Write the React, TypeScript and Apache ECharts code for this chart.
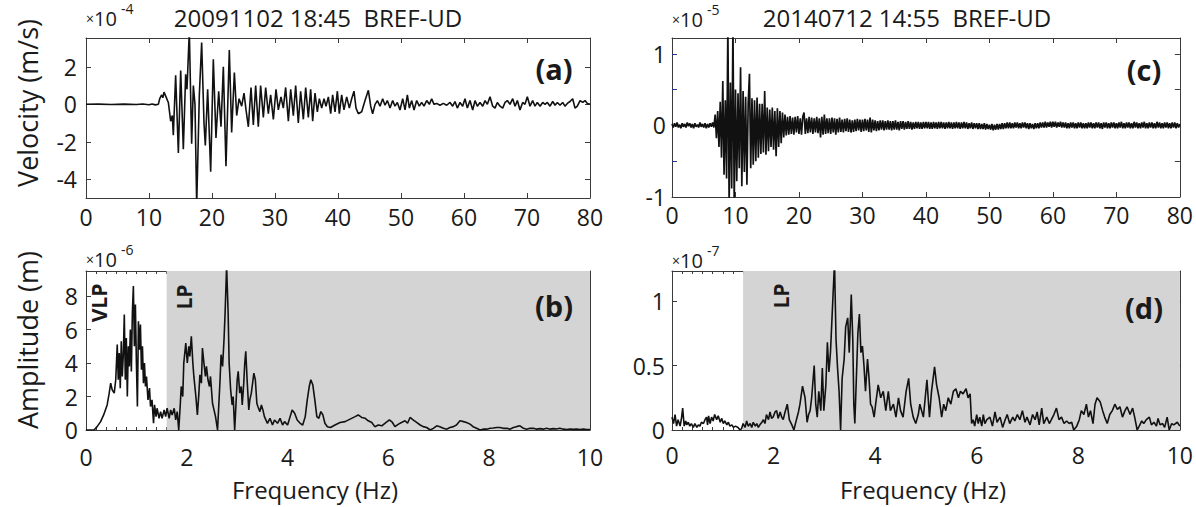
import React, { useEffect, useRef } from "react";
import * as echarts from "echarts";

// ---------- DATA ----------
// (a) velocity, x10^-4 m/s, [time s, value]
const velA: [number, number][] = [
  [0, 0], [2, 0.01], [4, -0.01], [6, 0.01], [8, -0.01], [9, 0.02], [10, -0.02], [10.5, 0.02], [11, -0.03], [11.48, 0.0],
  [11.7, 0.3], [12.01, 0.5], [12.2, 0.35], [12.38, 0.65], [12.7, 0.4], [13.07, 0.1], [13.44, -0.9], [13.7, -0.6], [13.86, -1.65],
  [14.23, 1.55], [14.66, -2.6], [15.03, 1.8], [15.45, -2.4], [15.82, 1.6], [16.03, 0.8], [16.4, 3.9], [16.77, -2.1], [17.04, 1.0],
  [17.3, 0.0], [17.57, -5.4], [17.99, 0.5], [18.36, 3.3], [18.73, -1.0], [18.94, -2.2], [19.31, 0.8], [19.79, -3.6], [20.21, 2.4],
  [20.63, -1.8], [21.06, 0.7], [21.43, -1.2], [21.8, 2.0], [22.22, -3.3], [22.75, 2.9], [23.12, -1.5], [23.55, 1.7], [23.92, -0.6],
  [24.3, 0.3], [24.71, -0.1], [25.08, 0.6], [25.4, -0.3], [25.77, -1.2], [26.19, 0.9], [26.56, -1.1], [26.93, 1.0], [27.35, -1.2],
  [27.72, 1.0], [28.15, -0.7], [28.52, 0.9], [28.94, -0.5], [29.31, 0.5], [29.74, -0.8], [30.16, 0.8], [30.53, -0.3], [30.95, 0.4],
  [31.32, -0.2], [31.69, 0.9], [32.12, -0.9], [32.49, 0.8], [32.91, -0.6], [33.28, 1.0], [33.7, -1.0], [34.07, 0.7], [34.5, -0.8],
  [34.87, 0.9], [35.29, -0.7], [35.66, 0.8], [35.98, -0.9], [36.35, 0.6], [36.72, -0.4], [37.04, 0.3], [37.41, -0.2], [37.78, 0.3],
  [38.1, -0.1], [38.47, 0.4], [38.84, -0.5], [39.15, 0.5], [39.53, -0.4], [39.9, 0.7], [40.21, -0.5], [40.58, 0.5], [40.95, -0.3],
  [41.38, 0.4], [41.8, -0.2], [42.17, 0.3], [42.54, 0.7], [42.86, -0.2], [43.23, -0.5], [43.76, -0.4], [44.29, 0.2], [44.82, 0.75],
  [45.19, -0.1], [45.5, -0.5], [45.88, 0.0], [46.25, 0.2], [46.67, -0.1], [47.09, 0.3], [47.46, -0.05], [47.83, 0.2], [48.26, -0.2],
  [48.68, 0.2], [49.05, -0.1], [49.42, 0.1], [49.84, -0.3], [50.27, 0.3], [50.64, -0.3], [51.01, 0.5], [51.33, -0.2], [51.7, 0.2],
  [52.07, -0.3], [52.49, 0.2], [52.91, -0.1], [53.28, 0.1], [53.65, -0.1], [54.08, 0.2], [54.5, 0.0], [54.87, 0.3], [55.24, 0.0],
  [55.66, 0.05], [56.19, -0.05], [56.72, 0.05], [57.25, -0.05], [57.78, 0.1], [58.2, -0.1], [58.57, 0.15], [58.94, -0.2], [59.37, 0.1],
  [59.79, -0.1], [60.16, 0.3], [60.53, -0.2], [60.95, 0.2], [61.38, -0.3], [61.75, 0.2], [62.12, -0.1], [62.54, 0.1], [62.97, -0.1],
  [63.34, 0.2], [63.71, 0.0], [64.13, 0.4], [64.55, -0.1], [64.92, -0.2], [65.29, 0.1], [65.72, -0.1], [66.14, -0.2], [66.51, 0.1],
  [66.88, 0.2], [67.3, 0.0], [67.73, 0.3], [68.1, -0.1], [68.47, 0.2], [68.89, -0.3], [69.31, 0.1], [69.68, 0.0], [70.05, 0.4],
  [70.48, -0.1], [70.9, 0.2], [71.27, -0.1], [71.64, 0.1], [72.07, -0.1], [72.49, 0.1], [72.86, 0.0], [73.23, 0.1], [73.65, -0.1],
  [74.08, 0.15], [74.45, -0.05], [74.82, 0.1], [75.24, -0.05], [75.66, 0.1], [76.03, -0.1], [76.4, 0.05], [76.83, 0.15], [77.25, 0.3],
  [77.62, -0.2], [77.99, -0.1], [78.42, 0.2], [78.84, 0.1], [79.21, 0.2], [79.58, 0.05], [80, 0.0],
];

// (c) velocity, x10^-5 m/s, sampled every 0.2 s from 0 to 80 s
const velCStep = 0.2;
const velC: number[] = [
  // 0-5
  0.02, -0.03, 0.03, -0.02, 0.04, -0.03, 0.01, -0.04, 0.03, -0.02, 0.02, -0.03, 0.04, -0.01, 0.03, -0.03, 0.02, -0.04, 0.03, -0.02, 0.01, -0.03, 0.04, -0.02, 0.02,
  // 5-10
  -0.03, 0.03, -0.04, 0.02, -0.03, 0.03, -0.02, 0.04, -0.03, 0.15, -0.18, 0.2, -0.3, 0.33, -0.45, 0.62, -0.69, 0.35, -0.74, 1.4, -1.1, 0.6, -0.88, 1.4, -1.1,
  // 10-15
  0.5, -0.78, 0.45, -0.6, 0.81, -0.85, 0.48, -0.65, 0.4, -0.83, 0.3, 0.72, -0.6, 0.38, -0.55, 0.35, -0.5, 0.39, -0.45, 0.3, -0.4, 0.3, -0.38, 0.48, -0.41,
  // 15-20
  0.25, -0.36, 0.22, -0.3, 0.25, -0.34, 0.2, -0.43, 0.24, -0.3, 0.2, -0.25, 0.18, -0.17, 0.15, -0.14, 0.12, -0.13, 0.13, -0.12, 0.11, -0.13, 0.12, -0.1, 0.13,
  // 20-25
  -0.12, 0.1, -0.13, 0.12, 0.18, -0.12, 0.1, -0.11, 0.12, -0.1, 0.11, -0.12, 0.1, -0.1, 0.12, -0.11, 0.1, -0.17, 0.12, -0.13, 0.15, -0.12, 0.1, -0.11, 0.1,
  // 25-30
  -0.12, 0.11, -0.1, 0.1, -0.13, 0.09, -0.1, 0.11, -0.09, 0.08, -0.1, 0.09, -0.08, 0.1, -0.09, 0.08, -0.1, 0.07, -0.09, 0.08, -0.08, 0.09, -0.07, 0.08, -0.09,
  // 30-35
  0.08, -0.08, 0.09, -0.07, 0.08, -0.09, 0.11, -0.1, 0.08, -0.07, 0.07, -0.08, 0.06, -0.07, 0.07, -0.06, 0.07, -0.07, 0.06, -0.06, 0.07, -0.06, 0.06, -0.07, 0.06,
  // 35-40
  -0.06, 0.07, -0.06, 0.05, -0.07, 0.06, -0.05, 0.06, -0.06, 0.05, -0.05, 0.06, -0.05, 0.05, -0.06, 0.04, -0.05, 0.05, -0.04, 0.05, -0.05, 0.04, -0.05, 0.05, -0.04,
  // 40-45
  0.05, -0.04, 0.05, -0.05, 0.04, -0.05, 0.05, -0.04, 0.04, -0.05, 0.05, -0.04, 0.05, -0.04, 0.04, -0.05, 0.04, -0.04, 0.05, -0.04, 0.04, -0.05, 0.04, -0.04, 0.05,
  // 45-50
  -0.04, 0.04, -0.05, 0.04, -0.04, 0.05, -0.04, 0.04, -0.05, 0.03, -0.04, 0.04, -0.05, 0.03, -0.04, 0.03, -0.05, 0.03, -0.05, 0.02, -0.05, 0.03, -0.06, 0.02, -0.05,
  // 50-55
  0.01, -0.06, 0.02, -0.07, 0.01, -0.06, 0.02, -0.06, 0.02, -0.05, 0.03, -0.05, 0.03, -0.04, 0.04, -0.04, 0.04, -0.04, 0.03, -0.04, 0.04, -0.03, 0.04, -0.04, 0.03,
  // 55-60
  -0.04, 0.04, -0.03, 0.04, -0.04, 0.03, -0.05, 0.03, -0.04, 0.02, -0.05, 0.03, -0.04, 0.03, -0.04, 0.04, -0.03, 0.04, -0.03, 0.05, -0.03, 0.04, -0.02, 0.05, -0.03,
  // 60-65
  0.05, -0.02, 0.05, -0.03, 0.04, -0.02, 0.05, -0.03, 0.04, -0.03, 0.04, -0.04, 0.03, -0.04, 0.04, -0.03, 0.04, -0.04, 0.03, -0.04, 0.04, -0.03, 0.04, -0.04, 0.03,
  // 65-70
  -0.04, 0.03, -0.04, 0.04, -0.03, 0.04, -0.04, 0.03, -0.04, 0.04, -0.03, 0.04, -0.04, 0.03, -0.05, 0.04, -0.03, 0.04, -0.04, 0.03, -0.04, 0.04, -0.03, 0.04, -0.04,
  // 70-75
  0.03, -0.04, 0.04, -0.03, 0.05, -0.04, 0.03, -0.04, 0.04, -0.03, 0.04, -0.04, 0.03, -0.04, 0.05, -0.03, 0.04, -0.04, 0.03, -0.04, 0.04, -0.03, 0.05, -0.04, 0.03,
  // 75-80
  -0.04, 0.04, -0.03, 0.04, -0.04, 0.03, -0.04, 0.05, -0.03, 0.04, -0.04, 0.03, -0.04, 0.04, -0.03, 0.04, -0.04, 0.03, -0.04, 0.04, -0.03, 0.04, -0.04, 0.03, -0.03,
  // 80
  0.02,
];

// (b) amplitude spectrum, x10^-6 m, [frequency Hz, value]
const ampB: [number, number][] = [
  [0, 0], [0.16, 0], [0.22, 0.2], [0.29, 0.5], [0.35, 0.9], [0.42, 1.5], [0.46, 2.2], [0.49, 2.8], [0.52, 2.4], [0.56, 2.2],
  [0.59, 3.0], [0.62, 5.1], [0.64, 3.0], [0.66, 4.6], [0.68, 2.5], [0.7, 5.3], [0.72, 3.2], [0.74, 4.5], [0.76, 6.9], [0.78, 3.0],
  [0.8, 5.5], [0.82, 2.0], [0.84, 5.0], [0.86, 3.8], [0.88, 6.0], [0.9, 3.5], [0.92, 7.0], [0.94, 8.6], [0.96, 5.0], [0.98, 7.5],
  [1.0, 4.0], [1.02, 1.4], [1.04, 6.5], [1.06, 4.8], [1.08, 6.3], [1.1, 3.6], [1.12, 5.0], [1.14, 2.8], [1.16, 4.0], [1.18, 2.6],
  [1.2, 3.2], [1.23, 1.8], [1.26, 2.5], [1.28, 1.4], [1.31, 1.8], [1.34, 0.4], [1.36, 1.5], [1.39, 0.8], [1.41, 1.3], [1.45, 0.7],
  [1.48, 1.1], [1.51, 0.7], [1.55, 1.2], [1.58, 0.8], [1.61, 1.3], [1.65, 0.7], [1.68, 1.2], [1.71, 0.9], [1.75, 1.3], [1.78, 0.6],
  [1.81, 1.1], [1.84, 0.0], [1.87, 1.5], [1.89, 2.6], [1.92, 2.0], [1.94, 4.0], [1.98, 5.2], [2.01, 4.0], [2.04, 5.0], [2.06, 4.4],
  [2.09, 5.6], [2.12, 4.0], [2.14, 3.2], [2.18, 2.0], [2.21, 0.9], [2.24, 2.2], [2.26, 3.3], [2.29, 2.8], [2.31, 4.9], [2.34, 4.0],
  [2.37, 3.2], [2.39, 3.8], [2.42, 3.0], [2.45, 2.6], [2.47, 3.2], [2.51, 1.6], [2.54, 1.2], [2.57, 0.8], [2.61, 0.0], [2.63, 1.2],
  [2.66, 3.0], [2.68, 4.5], [2.71, 3.8], [2.74, 5.5], [2.76, 7.0], [2.79, 9.8], [2.82, 7.0], [2.84, 4.0], [2.87, 2.4], [2.9, 1.5],
  [2.92, 2.0], [2.95, 0.0], [2.98, 1.8], [3.0, 3.0], [3.02, 3.5], [3.05, 2.2], [3.08, 2.6], [3.1, 1.5], [3.13, 2.8], [3.15, 4.0],
  [3.17, 4.7], [3.2, 2.8], [3.23, 1.2], [3.25, 1.8], [3.28, 2.2], [3.31, 2.9], [3.33, 3.4], [3.36, 3.0], [3.39, 1.6], [3.41, 1.4],
  [3.45, 1.1], [3.48, 1.5], [3.51, 1.2], [3.54, 0.8], [3.6, 0.4], [3.65, 0.7], [3.7, 0.3], [3.74, 0.6], [3.8, 0.4], [3.85, 0.7],
  [3.9, 0.3], [3.94, 0.5], [4.0, 0.3], [4.05, 0.8], [4.09, 1.2], [4.14, 1.0], [4.19, 0.6], [4.25, 0.4], [4.3, 0.3], [4.35, 0.8],
  [4.39, 1.8], [4.43, 2.6], [4.46, 3.0], [4.5, 2.7], [4.54, 1.8], [4.58, 0.8], [4.62, 0.7], [4.66, 1.1], [4.7, 0.9], [4.74, 0.4],
  [4.79, 0.2], [4.85, 0.15], [4.94, 0.3], [5.04, 0.45], [5.14, 0.5], [5.24, 0.65], [5.34, 0.8], [5.4, 0.9], [5.47, 0.75], [5.54, 0.7],
  [5.6, 0.55], [5.67, 0.45], [5.73, 0.2], [5.8, 0.3], [5.87, 0.25], [5.93, 0.4], [6.02, 0.6], [6.08, 0.45], [6.13, 0.2], [6.2, 0.35],
  [6.26, 0.45], [6.33, 0.55], [6.38, 0.4], [6.43, 0.75], [6.49, 0.6], [6.56, 0.45], [6.63, 0.3], [6.69, 0.2], [6.76, 0.15], [6.83, 0.0],
  [6.89, 0.1], [6.96, 0.25], [7.02, 0.2], [7.09, 0.1], [7.16, 0.05], [7.22, 0.15], [7.29, 0.2], [7.35, 0.3], [7.42, 0.55], [7.49, 0.5],
  [7.55, 0.45], [7.62, 0.35], [7.68, 0.2], [7.75, 0.1], [7.82, 0.0], [7.88, 0.05], [7.95, 0.05], [8.02, 0.1], [8.08, 0.12], [8.15, 0.15],
  [8.21, 0.15], [8.28, 0.1], [8.35, 0.1], [8.41, 0.05], [8.48, 0.15], [8.54, 0.2], [8.61, 0.25], [8.68, 0.1], [8.74, 0.05], [8.81, 0.1],
  [8.88, 0.1], [8.94, 0.05], [9.01, 0.08], [9.07, 0.05], [9.14, 0.1], [9.21, 0.05], [9.27, 0.08], [9.34, 0.06], [9.4, 0.1], [9.47, 0.05],
  [9.54, 0.03], [9.6, 0.06], [9.67, 0.04], [9.74, 0.05], [9.8, 0.03], [9.87, 0.05], [9.93, 0.03], [10.0, 0.03],
];

// (d) amplitude spectrum, x10^-7 m, [frequency Hz, value]
const ampD: [number, number][] = [
  [0.0, 0.1], [0.03, 0.05], [0.06, 0.12], [0.09, 0.03], [0.12, 0.08], [0.16, 0.03], [0.19, 0.1], [0.21, 0.17], [0.24, 0.03], [0.27, 0.07],
  [0.29, 0.04], [0.32, 0.06], [0.35, 0.03], [0.38, 0.05], [0.42, 0.02], [0.45, 0.05], [0.49, 0.02], [0.52, 0.04], [0.55, 0.03], [0.58, 0.06],
  [0.62, 0.05], [0.65, 0.08], [0.68, 0.1], [0.7, 0.04], [0.72, 0.11], [0.75, 0.05], [0.78, 0.1], [0.81, 0.07], [0.84, 0.12], [0.88, 0.08],
  [0.91, 0.11], [0.95, 0.06], [0.98, 0.09], [1.01, 0.05], [1.04, 0.07], [1.08, 0.04], [1.11, 0.06], [1.14, 0.03], [1.18, 0.04], [1.21, 0.02],
  [1.25, 0.03], [1.3, 0.02], [1.34, 0.0], [1.37, 0.01], [1.4, 0.05], [1.44, 0.02], [1.47, 0.07], [1.5, 0.03], [1.54, 0.05], [1.57, 0.02],
  [1.6, 0.06], [1.64, 0.03], [1.67, 0.05], [1.7, 0.02], [1.73, 0.04], [1.77, 0.06], [1.8, 0.08], [1.83, 0.05], [1.86, 0.12], [1.9, 0.08],
  [1.93, 0.14], [1.96, 0.09], [1.99, 0.1], [2.03, 0.14], [2.06, 0.15], [2.09, 0.09], [2.13, 0.14], [2.16, 0.1], [2.19, 0.08], [2.22, 0.13],
  [2.27, 0.2], [2.31, 0.08], [2.36, 0.04], [2.4, 0.0], [2.45, 0.08], [2.49, 0.14], [2.52, 0.2], [2.57, 0.34], [2.62, 0.25], [2.66, 0.06],
  [2.69, 0.12], [2.72, 0.15], [2.75, 0.25], [2.8, 0.5], [2.83, 0.2], [2.86, 0.1], [2.89, 0.3], [2.93, 0.15], [2.96, 0.48], [2.99, 0.15],
  [3.03, 0.35], [3.06, 0.68], [3.09, 0.45], [3.12, 0.6], [3.16, 0.95], [3.2, 1.3], [3.23, 0.7], [3.26, 0.48], [3.29, 0.3], [3.32, 0.0],
  [3.35, 0.4], [3.39, 0.55], [3.42, 0.8], [3.46, 0.87], [3.49, 0.6], [3.53, 1.05], [3.56, 0.7], [3.58, 0.2], [3.6, 0.05], [3.63, 0.4],
  [3.66, 0.75], [3.69, 0.9], [3.72, 0.6], [3.75, 0.65], [3.78, 0.5], [3.81, 0.3], [3.85, 0.55], [3.88, 0.4], [3.91, 0.2], [3.94, 0.18],
  [3.98, 0.1], [4.01, 0.2], [4.06, 0.35], [4.11, 0.25], [4.16, 0.3], [4.21, 0.15], [4.26, 0.3], [4.3, 0.15], [4.36, 0.2], [4.41, 0.1],
  [4.46, 0.25], [4.5, 0.15], [4.55, 0.1], [4.61, 0.3], [4.66, 0.4], [4.7, 0.2], [4.75, 0.1], [4.8, 0.05], [4.85, 0.12], [4.88, 0.2],
  [4.95, 0.1], [5.02, 0.39], [5.07, 0.1], [5.11, 0.3], [5.17, 0.49], [5.21, 0.35], [5.26, 0.25], [5.31, 0.1], [5.35, 0.2], [5.39, 0.15],
  [5.44, 0.25], [5.49, 0.2], [5.54, 0.3], [5.59, 0.32], [5.64, 0.25], [5.68, 0.3], [5.73, 0.28], [5.79, 0.32], [5.83, 0.25], [5.87, 0.28],
  [5.9, 0.05], [5.93, 0.08], [5.96, 0.03], [6.0, 0.12], [6.03, 0.05], [6.06, 0.1], [6.1, 0.03], [6.13, 0.12], [6.16, 0.05], [6.2, 0.08],
  [6.26, 0.1], [6.31, 0.03], [6.36, 0.14], [6.4, 0.06], [6.46, 0.1], [6.51, 0.02], [6.56, 0.08], [6.6, 0.12], [6.65, 0.05], [6.71, 0.1],
  [6.75, 0.07], [6.8, 0.12], [6.85, 0.08], [6.9, 0.15], [6.95, 0.06], [6.99, 0.1], [7.05, 0.04], [7.1, 0.12], [7.15, 0.08], [7.19, 0.14],
  [7.23, 0.04], [7.28, 0.17], [7.32, 0.05], [7.38, 0.1], [7.43, 0.05], [7.47, 0.08], [7.52, 0.12], [7.57, 0.17], [7.62, 0.08], [7.67, 0.1],
  [7.72, 0.05], [7.77, 0.07], [7.82, 0.05], [7.87, 0.06], [7.91, 0.0], [7.97, 0.03], [8.02, 0.08], [8.06, 0.15], [8.11, 0.12], [8.16, 0.2],
  [8.2, 0.1], [8.24, 0.15], [8.29, 0.05], [8.33, 0.2], [8.37, 0.25], [8.43, 0.22], [8.48, 0.15], [8.52, 0.1], [8.57, 0.05], [8.62, 0.12],
  [8.67, 0.15], [8.72, 0.2], [8.77, 0.16], [8.82, 0.18], [8.87, 0.1], [8.92, 0.15], [8.96, 0.18], [9.02, 0.12], [9.07, 0.17], [9.11, 0.1],
  [9.16, 0.0], [9.2, 0.03], [9.25, 0.07], [9.29, 0.05], [9.34, 0.08], [9.4, 0.1], [9.44, 0.04], [9.49, 0.06], [9.54, 0.03], [9.57, 0.09],
  [9.61, 0.04], [9.66, 0.05], [9.7, 0.02], [9.75, 0.1], [9.79, 0.0], [9.84, 0.05], [9.88, 0.04], [9.95, 0.06], [10.0, 0.03],
];

// axis ranges / ticks
const timeRange = [0, 80];
const timeInterval = 10;
const freqRange = [0, 10];
const freqInterval = 2;
const velARange = [-5, 3.54];
const velATicks = [-4, -2, 0, 2];
const velCRange = [-1, 1.22];
const velCTicks = [-0.5, 0, 0.5, 1];
const velCLabels = [-1, 0, 1];
const ampBRange = [0, 9.5];
const ampBTicks = [0, 2, 4, 6, 8];
const ampDRange = [0, 1.233];
const ampDTicks = [0, 0.5, 1];
const lpBandB = [1.6, 10];
const lpBandD = [1.4, 10];

const titles = ["20091102 18:45  BREF-UD", "20140712 14:55  BREF-UD"];
const panelTags = ["(a)", "(b)", "(c)", "(d)"];
const exponents = ["-4", "-6", "-5", "-7"];

// ---------- STYLE ----------
const FONT = "'Open Sans', 'Noto Sans', sans-serif";
const AX = "#3a3a3a";
const TXT = "#1a1a1a";
const LINE = "#111111";
const TICK_FS = 23;

function xAxes(grid: number, range: number[], interval: number, minor: boolean, margin: number) {
  const common = {
    type: "value",
    gridIndex: grid,
    min: range[0],
    max: range[1],
    interval,
    splitLine: { show: false },
    axisLine: { show: true, onZero: false, lineStyle: { color: AX, width: 1 } },
    axisTick: { show: true, inside: true, length: 5, lineStyle: { color: AX, width: 1 } },
    minorTick: minor
      ? { show: true, splitNumber: 10, length: 3, lineStyle: { color: AX, width: 1 } }
      : { show: false },
  };
  return [
    {
      ...common,
      position: "bottom",
      axisLabel: { show: true, color: TXT, fontSize: TICK_FS, fontFamily: FONT, margin },
    },
    { ...common, position: "top", axisLabel: { show: false } },
  ];
}

function yAxes(grid: number, range: number[], tickValues: number[], labelValues: number[], margin: number, leftTickColor = AX) {
  const base = {
    type: "value",
    gridIndex: grid,
    min: range[0],
    max: range[1],
    splitLine: { show: false },
    axisLine: { show: true, onZero: false, lineStyle: { color: AX, width: 1 } },
  };
  const tick = (color: string) => ({
    show: true,
    inside: true,
    length: 5,
    lineStyle: { color, width: 1 },
    customValues: tickValues,
  });
  return [
    {
      ...base,
      position: "left",
      axisTick: tick(leftTickColor),
      axisLabel: {
        show: true,
        color: TXT,
        fontSize: TICK_FS,
        fontFamily: FONT,
        margin,
        customValues: labelValues,
      },
    },
    { ...base, position: "right", axisTick: tick(AX), axisLabel: { show: false } },
  ];
}

function lineSeries(x: number, y: number, data: any[], width: number, band?: number[]) {
  const s: any = {
    type: "line",
    xAxisIndex: x,
    yAxisIndex: y,
    data,
    showSymbol: false,
    symbol: "none",
    clip: true,
    lineStyle: { color: LINE, width },
    emphasis: { disabled: true },
    silent: true,
    z: 3,
  };
  if (band) {
    s.markArea = {
      silent: true,
      itemStyle: { color: "#d4d4d4" },
      data: [[{ xAxis: band[0] }, { xAxis: band[1] }]],
    };
  }
  return s;
}

function t(text: string, x: number, y: number, size: number, extra: any = {}) {
  return {
    type: "text",
    x,
    y,
    style: {
      text,
      fontSize: size,
      fontFamily: FONT,
      fill: TXT,
      align: "center",
      verticalAlign: "middle",
      ...extra,
    },
    z: 10,
  };
}

function times10(x: number, y: number, exp: string) {
  return [
    {
      type: "text",
      x,
      y,
      style: {
        text: "{m|×}{n|10}",
        rich: {
          m: { fontSize: 14, fontFamily: FONT, fill: TXT },
          n: { fontSize: 20, fontFamily: FONT, fill: TXT },
        },
        align: "left",
        verticalAlign: "middle",
      },
      z: 10,
    },
    t(exp, x + 35, y - 10, 14, { align: "left" }),
  ];
}

export default function App() {
  const ref = useRef<HTMLDivElement>(null);

  useEffect(() => {
    document.body.style.margin = "0";
    if (!ref.current) return;
    const chart = echarts.init(ref.current, undefined, { renderer: "svg" });

    const velCData = velC.map((v, i) => [+(i * velCStep).toFixed(2), v]);

    const option: any = {
      animation: false,
      backgroundColor: "#ffffff",
      grid: [
        { left: 86, top: 38, width: 504, height: 160 },
        { left: 672, top: 38, width: 508, height: 159 },
        { left: 86, top: 271, width: 504, height: 159 },
        { left: 672, top: 271, width: 508, height: 159 },
      ],
      xAxis: [
        ...xAxes(0, timeRange, timeInterval, false, 7),
        ...xAxes(1, timeRange, timeInterval, false, 6),
        ...xAxes(2, freqRange, freqInterval, true, 15),
        ...xAxes(3, freqRange, freqInterval, true, 13),
      ],
      yAxis: [
        ...yAxes(0, velARange, velATicks, velATicks, 9),
        ...yAxes(1, velCRange, velCTicks, velCLabels, 6, "#2b3a9a"),
        ...yAxes(2, ampBRange, ampBTicks, ampBTicks, 8),
        ...yAxes(3, ampDRange, ampDTicks, ampDTicks, 7),
      ],
      series: [
        lineSeries(0, 0, velA, 1.6),
        lineSeries(2, 2, velCData, 1.7),
        lineSeries(4, 4, ampB, 1.6, lpBandB),
        lineSeries(6, 6, ampD, 1.6, lpBandD),
      ],
      graphic: [
        t(titles[0], 318, 17, 24),
        t(titles[1], 907, 17, 24),
        ...times10(86, 18, exponents[0]),
        ...times10(672, 19, exponents[2]),
        ...times10(86, 259, exponents[1]),
        ...times10(672, 260, exponents[3]),
        t(panelTags[0], 554, 68, 29, { fontWeight: "bold" }),
        t(panelTags[1], 554, 305, 29, { fontWeight: "bold" }),
        t(panelTags[2], 1144, 69, 29, { fontWeight: "bold" }),
        t(panelTags[3], 1144, 307, 29, { fontWeight: "bold" }),
        { ...t("VLP", 0, 0, 21, { fontWeight: "bold" }), x: 99, y: 303, rotation: Math.PI / 2 },
        { ...t("LP", 0, 0, 21, { fontWeight: "bold" }), x: 184, y: 297, rotation: Math.PI / 2 },
        { ...t("LP", 0, 0, 21, { fontWeight: "bold" }), x: 781, y: 296, rotation: Math.PI / 2 },
        { ...t("Velocity (m/s)", 0, 0, 27), x: 27, y: 103, rotation: Math.PI / 2 },
        { ...t("Amplitude (m)", 0, 0, 27), x: 27, y: 340, rotation: Math.PI / 2 },
        t("Frequency (Hz)", 315, 489, 24),
        t("Frequency (Hz)", 923, 489, 24),
      ],
    };

    chart.setOption(option);
    return () => chart.dispose();
  }, []);

  return (
    <div
      ref={ref}
      style={{ position: "absolute", left: 0, top: 0, width: 1196, height: 507, background: "#fff" }}
    />
  );
}
